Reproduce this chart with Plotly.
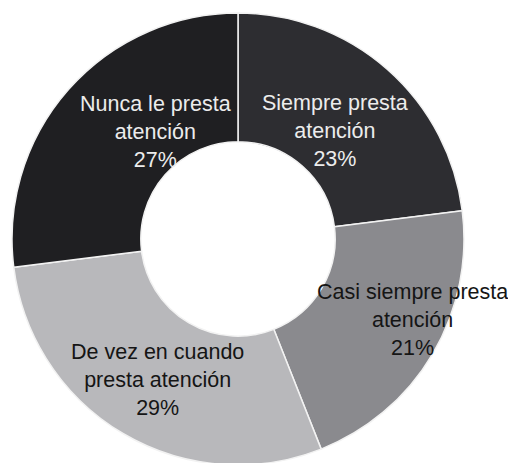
import math
import plotly.graph_objects as go

labels = ["Siempre presta<br>atención", "Casi siempre presta<br>atención",
          "De vez en cuando<br>presta atención", "Nunca le presta<br>atención"]
values = [23, 21, 29, 27]
colors = ["#2d2d31", "#8a8a8e", "#b8b8bb", "#1f1f22"]
text_colors = ["#ececec", "#151515", "#151515", "#ececec"]
# pixel nudges for label placement (layout only)
label_nudge = [(-10, 13), (35, -1), (2, 2), (39, 0)]

W, H = 516, 463
HOLE = 0.43
dom_x = [0.00775, 0.8837]
dom_y = [0.013, 0.9892]

fig = go.Figure(go.Pie(
    labels=labels,
    values=values,
    hole=HOLE,
    sort=False,
    direction="clockwise",
    rotation=0,
    marker=dict(colors=colors, line=dict(color="#f2f2f2", width=1.5)),
    textinfo="none",
    hoverinfo="label+percent",
    domain=dict(x=dom_x, y=dom_y),
    showlegend=False,
))

# label positions derived from slice mid-angles on the ring's mid radius
cx = W * (dom_x[0] + dom_x[1]) / 2
cy = H * (1 - (dom_y[0] + dom_y[1]) / 2)
R = min(W * (dom_x[1] - dom_x[0]), H * (dom_y[1] - dom_y[0])) / 2
r_mid = R * (1 + HOLE) / 2
total = sum(values)
cum = 0
annotations = []
for lab, v, tc, (nx, ny) in zip(labels, values, text_colors, label_nudge):
    mid = (cum + v / 2) / total * 2 * math.pi
    cum += v
    px = cx + r_mid * math.sin(mid) + nx
    py = cy - r_mid * math.cos(mid) + ny
    pct = round(v / total * 100)
    annotations.append(dict(
        x=px / W, y=1 - py / H, xref="paper", yref="paper",
        text=f"{lab}<br>{pct}%", showarrow=False,
        xanchor="center", yanchor="middle", align="center",
        font=dict(family="Liberation Sans, Arial, sans-serif", size=21.5, color=tc),
    ))

fig.update_layout(
    width=W, height=H,
    margin=dict(l=0, r=0, t=0, b=0),
    paper_bgcolor="white",
    plot_bgcolor="white",
    annotations=annotations,
)

fig.write_html("out.html")
